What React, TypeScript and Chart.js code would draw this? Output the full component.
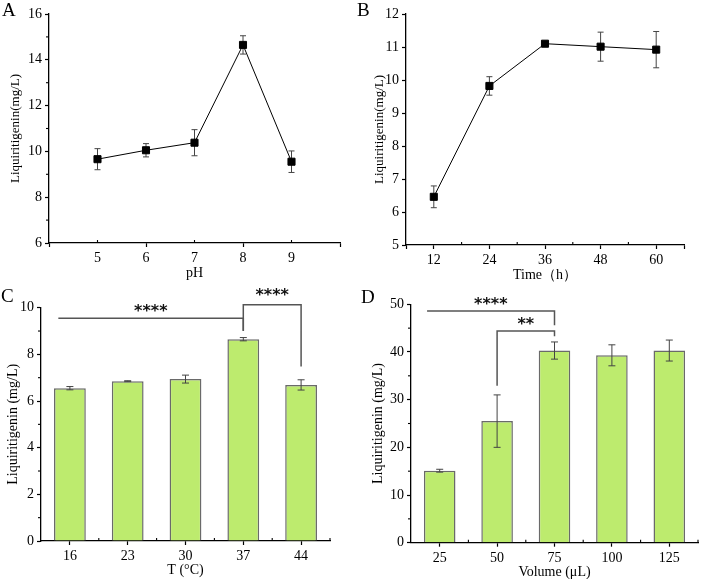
import React, { useEffect, useRef } from 'react';
import { Chart, registerables } from 'chart.js';

Chart.register(...registerables);

// ---------- Data ----------
// Panel A: pH
const phValues = [5, 6, 7, 8, 9];
const phMeans = [9.66, 10.05, 10.38, 14.65, 9.55];
const phErrors = [0.46, 0.29, 0.57, 0.4, 0.47];
const phXTicks = [4, 5, 6, 7, 8, 9, 10];
const phXLabels = [5, 6, 7, 8, 9];
const phXMajors = [4, 6, 8, 10];
const phXMinor = [5, 7, 9];
const phYMinor = [7, 9, 11, 13, 15];

// Panel B: Time
const timeValues = [12, 24, 36, 48, 60];
const timeMeans = [6.46, 9.82, 11.1, 11.01, 10.92];
const timeErrors = [0.33, 0.28, 0.07, 0.44, 0.55];
const timeXTicks = [6, 12, 24, 36, 48, 60, 66];
const timeXLabels = [12, 24, 36, 48, 60];
const timeXMinor = [18, 30, 42, 54];
const timeYMinor: number[] = [];

// Panel C: Temperature
const tempCategories = ['16', '23', '30', '37', '44'];
const tempMeans = [6.55, 6.85, 6.94, 8.65, 6.69];
const tempErrors = [0.07, 0.02, 0.17, 0.07, 0.22];
const tempXMinor = [0.5, 1.5, 2.5, 3.5, 4.5];
const tempYMinor = [1, 3, 5, 7, 9];
const tempBrackets = [
  { from: -0.2, to: 3, y: 9.55, leftEnd: 9.55, rightEnd: 9.0, label: '****', labelY: 10.06 },
  { from: 3, to: 4, y: 10.13, leftEnd: 9.01, rightEnd: 7.48, label: '****', labelY: 10.72 },
];

// Panel D: Volume
const volCategories = ['25', '50', '75', '100', '125'];
const volMeans = [15.1, 25.5, 40.3, 39.3, 40.3];
const volErrors = [0.3, 5.5, 1.8, 2.2, 2.2];
const volXMinor = [0.5, 1.5, 2.5, 3.5, 4.5];
const volYMinor = [5, 15, 25, 35, 45];
const volBrackets = [
  { from: -0.22, to: 2, y: 48.6, leftEnd: 48.6, rightEnd: 45.6, label: '****', labelY: 50.9 },
  { from: 1, to: 2, y: 44.4, leftEnd: 32.9, rightEnd: 43.3, label: '**', labelY: 46.7 },
];

// ---------- Styles ----------
const SERIF = "'Liberation Serif', 'Times New Roman', serif";
const BAR_FILL = '#bdeb6e';
const BAR_BORDER = '#6a6a6a';
const ERR_COLOR = '#444';
const BRACKET_COLOR = '#555';

type AxisSpec = {
  type: 'linear' | 'category';
  min?: number;
  max?: number;
  stepSize?: number;
  ticks?: number[];
  labels?: number[];
  majors?: number[];
  size: number;
  title: string;
  titleSize: number;
  titlePad: number;
};

function buildAxis(isX: boolean, spec: AxisSpec): any {
  const o: any = {
    type: spec.type,
    grid: {
      display: true,
      drawOnChartArea: false,
      drawTicks: true,
      tickLength: 4,
      tickWidth: 1.2,
      offset: false,
      tickColor: (c: any) =>
        spec.majors && c.tick && !spec.majors.includes(c.tick.value) ? 'rgba(0,0,0,0)' : '#000',
    },
    border: { display: true, color: '#000', width: 1.3 },
    ticks: {
      color: '#000',
      font: { family: SERIF, size: 14 },
      padding: 3,
      autoSkip: false,
      maxRotation: 0,
      minRotation: 0,
    },
    title: {
      display: true,
      text: spec.title,
      color: '#000',
      font: { family: SERIF, size: spec.titleSize, lineHeight: 1 },
      padding: isX ? { top: 0, bottom: spec.titlePad } : { top: spec.titlePad, bottom: 0 },
    },
    afterFit: (axis: any) => {
      if (isX) axis.height = spec.size;
      else axis.width = spec.size;
    },
  };
  if (spec.min !== undefined) o.min = spec.min;
  if (spec.max !== undefined) o.max = spec.max;
  if (spec.stepSize !== undefined) o.ticks.stepSize = spec.stepSize;
  if (spec.ticks) {
    const tv = spec.ticks;
    o.afterBuildTicks = (axis: any) => {
      axis.ticks = tv.map((v) => ({ value: v }));
    };
  }
  if (spec.labels) {
    const lv = spec.labels;
    o.ticks.callback = (v: any) => (lv.includes(Number(v)) ? String(v) : '');
  }
  return o;
}

function minorTickPlugin(xMinor: number[], xDir: number, yMinor: number[], yDir: number) {
  return {
    id: 'minorTicks',
    afterDraw(chart: any) {
      const { ctx, scales, chartArea } = chart;
      ctx.save();
      ctx.strokeStyle = '#000';
      ctx.lineWidth = 1.1;
      xMinor.forEach((v) => {
        const px = scales.x.getPixelForValue(v);
        const py = chartArea.bottom;
        ctx.beginPath();
        ctx.moveTo(px, py);
        ctx.lineTo(px, py + xDir * 3);
        ctx.stroke();
      });
      yMinor.forEach((v) => {
        const py = scales.y.getPixelForValue(v);
        const px = chartArea.left;
        ctx.beginPath();
        ctx.moveTo(px, py);
        ctx.lineTo(px - yDir * 3, py);
        ctx.stroke();
      });
      ctx.restore();
    },
  };
}

function errorBarPlugin(means: number[], errs: number[], before: boolean, cap: number) {
  const draw = (chart: any) => {
    const { ctx, scales } = chart;
    const meta = chart.getDatasetMeta(0);
    ctx.save();
    ctx.strokeStyle = ERR_COLOR;
    ctx.lineWidth = 1;
    meta.data.forEach((el: any, i: number) => {
      const x = el.x;
      const yt = scales.y.getPixelForValue(means[i] + errs[i]);
      const yb = scales.y.getPixelForValue(means[i] - errs[i]);
      ctx.beginPath();
      ctx.moveTo(x, yt);
      ctx.lineTo(x, yb);
      ctx.moveTo(x - cap, yt);
      ctx.lineTo(x + cap, yt);
      ctx.moveTo(x - cap, yb);
      ctx.lineTo(x + cap, yb);
      ctx.stroke();
    });
    ctx.restore();
  };
  return before
    ? { id: 'errorBars', beforeDatasetsDraw: draw }
    : { id: 'errorBars', afterDatasetsDraw: draw };
}

type Bracket = { from: number; to: number; y: number; leftEnd: number; rightEnd: number; label: string; labelY: number };

function bracketPlugin(brackets: Bracket[]) {
  return {
    id: 'brackets',
    afterDraw(chart: any) {
      const { ctx, scales } = chart;
      ctx.save();
      ctx.strokeStyle = BRACKET_COLOR;
      ctx.lineWidth = 1.5;
      brackets.forEach((b) => {
        const x1 = scales.x.getPixelForValue(b.from);
        const x2 = scales.x.getPixelForValue(b.to);
        const y = scales.y.getPixelForValue(b.y);
        const yl = scales.y.getPixelForValue(b.leftEnd);
        const yr = scales.y.getPixelForValue(b.rightEnd);
        ctx.beginPath();
        ctx.moveTo(x1, yl);
        ctx.lineTo(x1, y);
        ctx.lineTo(x2, y);
        ctx.lineTo(x2, yr);
        ctx.stroke();
        const fs = 16;
        ctx.font = `bold ${fs}px 'DejaVu Sans'`;
        ctx.fillStyle = '#111';
        ctx.textAlign = 'center';
        ctx.textBaseline = 'alphabetic';
        const ly = scales.y.getPixelForValue(b.labelY);
        ctx.fillText(b.label, (x1 + x2) / 2, ly + fs * 0.58);
      });
      ctx.restore();
    },
  };
}

// ---------- Chart configs ----------
function configA(): any {
  return {
    type: 'line',
    data: {
      datasets: [
        {
          data: phValues.map((x, i) => ({ x, y: phMeans[i] })),
          borderColor: '#000',
          borderWidth: 1,
          pointStyle: 'rect',
          pointRadius: 5,
          pointBackgroundColor: '#000',
          pointBorderColor: '#000',
          tension: 0,
        },
      ],
    },
    options: {
      animation: false,
      responsive: false,
      devicePixelRatio: 1,
      layout: { padding: { left: 0, top: 14, right: 10, bottom: 0 } },
      plugins: { legend: { display: false }, tooltip: { enabled: false } },
      scales: {
        x: buildAxis(true, { type: 'linear', min: 4, max: 10, ticks: phXTicks, labels: phXLabels, majors: phXMajors, size: 47, title: 'pH', titleSize: 14, titlePad: 10 }),
        y: buildAxis(false, { type: 'linear', min: 6, max: 16, stepSize: 2, size: 49, title: 'Liquiritigenin(mg/L)', titleSize: 13, titlePad: 9.5 }),
      },
    },
    plugins: [errorBarPlugin(phMeans, phErrors, true, 3), minorTickPlugin(phXMinor, -1, phYMinor, 1)],
  };
}

function configB(): any {
  return {
    type: 'line',
    data: {
      datasets: [
        {
          data: timeValues.map((x, i) => ({ x, y: timeMeans[i] })),
          borderColor: '#000',
          borderWidth: 1,
          pointStyle: 'rect',
          pointRadius: 5,
          pointBackgroundColor: '#000',
          pointBorderColor: '#000',
          tension: 0,
        },
      ],
    },
    options: {
      animation: false,
      responsive: false,
      devicePixelRatio: 1,
      layout: { padding: { left: 0, top: 14, right: 25, bottom: 0 } },
      plugins: { legend: { display: false }, tooltip: { enabled: false } },
      scales: {
        x: buildAxis(true, { type: 'linear', min: 6, max: 66, ticks: timeXTicks, labels: timeXLabels, size: 45, title: 'Time（h）', titleSize: 14, titlePad: 8 }),
        y: buildAxis(false, { type: 'linear', min: 5, max: 12, stepSize: 1, size: 56, title: 'Liquiritigenin(mg/L)', titleSize: 13, titlePad: 23.5 }),
      },
    },
    plugins: [errorBarPlugin(timeMeans, timeErrors, true, 3), minorTickPlugin(timeXMinor, -1, timeYMinor, 1)],
  };
}

function barConfig(
  cats: string[], means: number[], errs: number[], yMax: number, yStep: number,
  xTitle: string, pad: any, xSize: number, ySize: number, yTitlePad: number, xTitlePad: number,
  xMinor: number[], yMinor: number[], brackets: Bracket[]
): any {
  return {
    type: 'bar',
    data: {
      labels: cats,
      datasets: [
        {
          data: means,
          backgroundColor: BAR_FILL,
          borderColor: BAR_BORDER,
          borderWidth: 1.5,
          categoryPercentage: 1,
          barPercentage: 0.55,
        },
      ],
    },
    options: {
      animation: false,
      responsive: false,
      devicePixelRatio: 1,
      layout: { padding: pad },
      plugins: { legend: { display: false }, tooltip: { enabled: false } },
      scales: {
        x: buildAxis(true, { type: 'category', size: xSize, title: xTitle, titleSize: 14, titlePad: xTitlePad }),
        y: buildAxis(false, { type: 'linear', min: 0, max: yMax, stepSize: yStep, size: ySize, title: 'Liquiritigenin (mg/L)', titleSize: 14, titlePad: yTitlePad }),
      },
    },
    plugins: [errorBarPlugin(means, errs, false, 3.5), minorTickPlugin(xMinor, -1, yMinor, 1), bracketPlugin(brackets)],
  };
}

function configC(): any {
  return barConfig(tempCategories, tempMeans, tempErrors, 10, 2, 'T (°C)',
    { left: 0, top: 22.7, right: 20, bottom: 0 }, 38, 41, 6.5, 2, tempXMinor, tempYMinor, tempBrackets);
}

function configD(): any {
  return barConfig(volCategories, volMeans, volErrors, 50, 10, 'Volume (μL)',
    { left: 0, top: 19.3, right: 11, bottom: 0 }, 36.3, 61, 21.5, 0, volXMinor, volYMinor, volBrackets);
}

function Panel(props: { left: number; top: number; width: number; height: number; build: () => any }) {
  const ref = useRef<HTMLCanvasElement>(null);
  useEffect(() => {
    const chart = new Chart(ref.current as HTMLCanvasElement, props.build());
    return () => chart.destroy();
  }, []);
  return (
    <div style={{ position: 'absolute', left: props.left, top: props.top, width: props.width, height: props.height }}>
      <canvas ref={ref} width={props.width} height={props.height} style={{ width: props.width, height: props.height, display: 'block' }} />
    </div>
  );
}

const letterStyle: React.CSSProperties = {
  position: 'absolute',
  fontFamily: SERIF,
  fontSize: 19,
  lineHeight: '19px',
  color: '#000',
};

export default function App() {
  return (
    <div style={{ position: 'absolute', left: 0, top: 0, width: 709, height: 579, background: '#fff', overflow: 'hidden' }}>
      <Panel left={0} top={0} width={350} height={290} build={configA} />
      <Panel left={350} top={0} width={359} height={290} build={configB} />
      <Panel left={0} top={285} width={350} height={294} build={configC} />
      <Panel left={350} top={285} width={359} height={294} build={configD} />
      <div style={{ ...letterStyle, left: 2, top: 0 }}>A</div>
      <div style={{ ...letterStyle, left: 357, top: 0 }}>B</div>
      <div style={{ ...letterStyle, left: 1, top: 286 }}>C</div>
      <div style={{ ...letterStyle, left: 361, top: 287 }}>D</div>
    </div>
  );
}
